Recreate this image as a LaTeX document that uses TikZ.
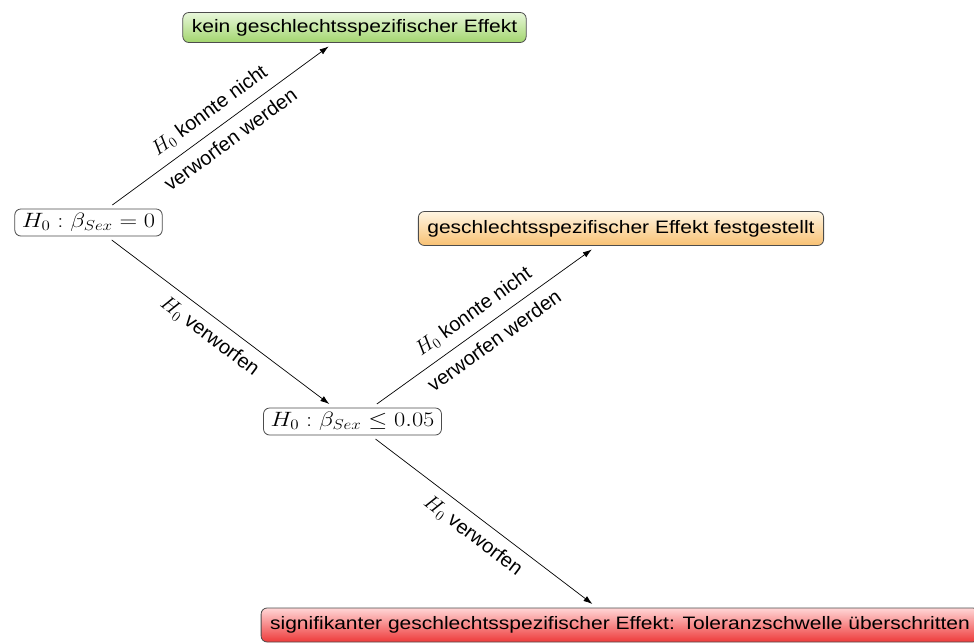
\documentclass[tikz,border=0pt]{standalone}
\usepackage{fontspec}
\setmainfont{Liberation Sans}
\usetikzlibrary{arrows.meta}
\definecolor{gtop}{HTML}{E8F7DA}
\definecolor{gbot}{HTML}{A2D56E}
\definecolor{otop}{HTML}{FFF5E2}
\definecolor{obot}{HTML}{F8C173}
\definecolor{rtop}{HTML}{FFD6D6}
\definecolor{rbot}{HTML}{EE3A3A}
\newcommand{\sx}[1]{\scalebox{1.167}[1]{#1}}
\newcommand{\mx}[1]{\scalebox{1.18}[1]{#1}}
\begin{document}
\begin{tikzpicture}[x=1pt,y=-1pt,
  every node/.style={font=\fontsize{18}{21}\selectfont},
  box/.style={draw=black!70, rounded corners=6pt, line width=0.8pt, inner xsep=9pt, inner ysep=4pt, outer sep=4pt},
  mbox/.style={box, fill=white, inner xsep=7pt, minimum height=27pt, font=\fontsize{20}{24}\selectfont},
  gbox/.style={box, top color=gtop, bottom color=gbot, minimum height=30pt},
  obox/.style={box, top color=otop, bottom color=obot, minimum height=34pt},
  rbox/.style={box, top color=rtop, bottom color=rbot, minimum height=34pt},
  arr/.style={-{Latex[length=9pt,width=6pt]}, line width=0.7pt},
  labu/.style={sloped, inner sep=1pt, above=8pt, font=\fontsize{20}{24}\selectfont},
  labd/.style={sloped, inner sep=1pt, below=8pt, font=\fontsize{20}{24}\selectfont}
]
\clip (0,0) rectangle (974,643);
\node[mbox] (A) at (88.5,222.5) {\mx{$H_0:\beta_{Sex}=0$}};
\node[gbox] (G) at (354.5,27.5) {\sx{kein geschlechtsspezifischer Effekt}};
\node[mbox] (B) at (352.5,421.5) {\mx{$H_0:\beta_{Sex}\leq 0.05$}};
\node[obox] (O) at (621,228.5) {\sx{geschlechtsspezifischer Effekt festgestellt}};
\node[rbox] (R) at (620,625) {\sx{signifikanter geschlechtsspezifischer Effekt: Toleranzschwelle überschritten}};

\draw[arr] (A) -- (G)
  node[labu, pos=0.5] {$H_0$ konnte nicht}
  node[labd, pos=0.5] {verworfen werden};
\draw[arr] (A) -- (B)
  node[labd, pos=0.5] {$H_0$ verworfen};
\draw[arr] (B) -- (O)
  node[labu, pos=0.5] {$H_0$ konnte nicht}
  node[labd, pos=0.5] {verworfen werden};
\draw[arr] (B) -- (R)
  node[labd, pos=0.5] {$H_0$ verworfen};
\end{tikzpicture}
\end{document}
